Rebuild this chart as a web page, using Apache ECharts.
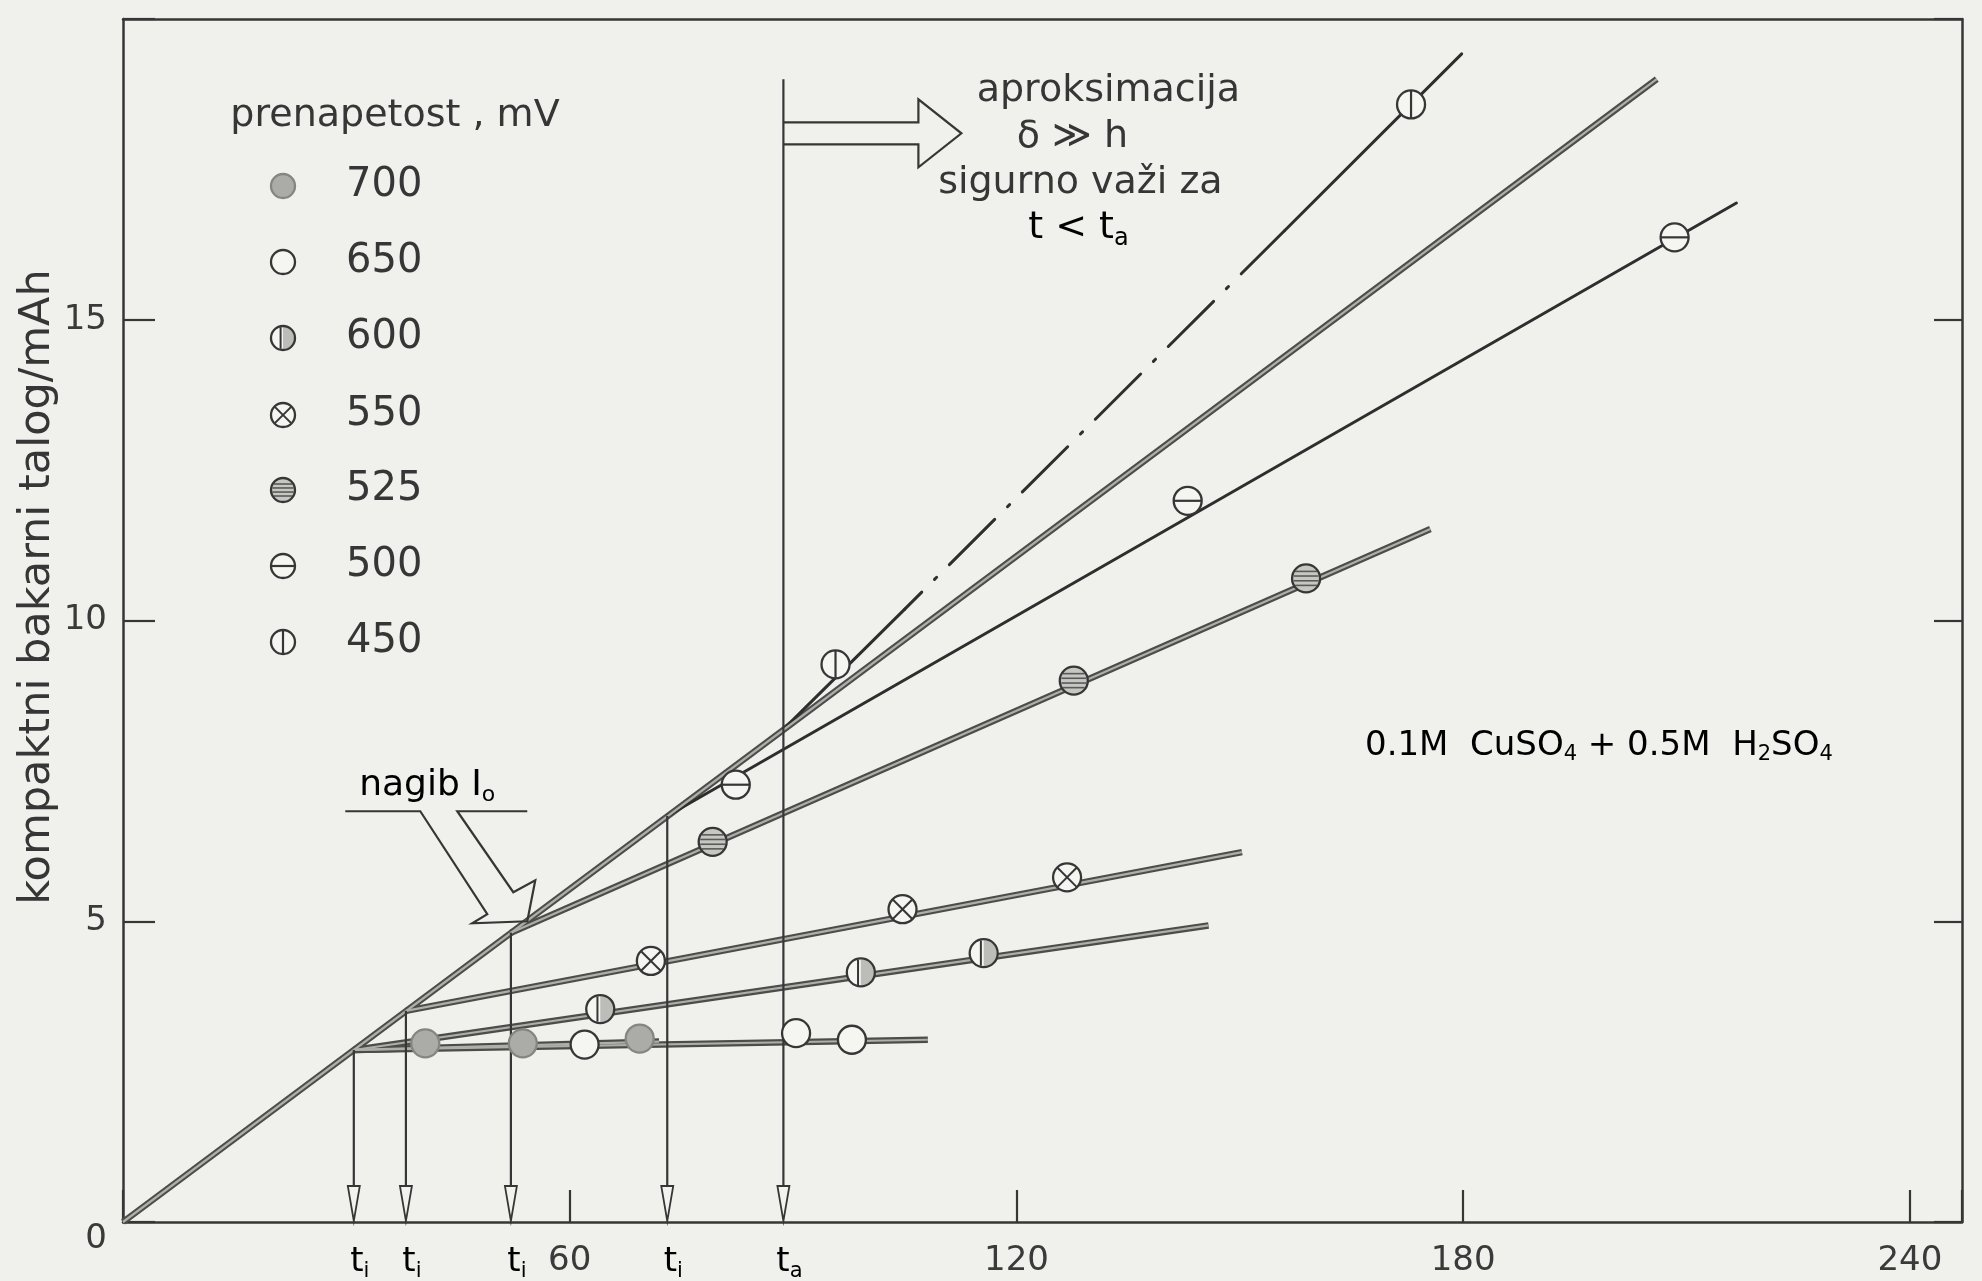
<!DOCTYPE html>
<html>
<head>
<meta charset="utf-8">
<script src="https://cdn.jsdelivr.net/npm/echarts@6/dist/echarts.min.js"></script>
<style>
  html, body { margin: 0; background: #f0f1ed; }
  #chart { width: 1982px; height: 1281px; }
</style>
</head>
<body>
<div id="chart"></div>
<script>
// overpotential, mV (legend order)
const voltages = ['700', '650', '600', '550', '525', '500', '450'];

// measured points [t / min, Q / mAh]
const pts700 = [[40.6, 2.97], [53.7, 2.97], [69.4, 3.05]];
const pts650 = [[62.0, 2.95], [90.4, 3.14], [97.9, 3.03]];
const pts600 = [[64.1, 3.54], [99.1, 4.15], [115.6, 4.47]];
const pts550 = [[70.9, 4.34], [104.7, 5.20], [126.8, 5.73]];
const pts525 = [[79.2, 6.32], [127.7, 9.00], [158.9, 10.70]];
const pts500 = [[82.3, 7.27], [143.0, 11.99], [208.4, 16.37]];
const pts450 = [[95.7, 9.27], [173.0, 18.58]];

// straight lines drawn through each set (start, end)
const fit700 = [[31.0, 2.86], [72.0, 3.00]];
const fit650 = [[31.0, 2.86], [108.1, 3.03]];
const fit600 = [[31.0, 2.86], [145.8, 4.93]];
const fit550 = [[38.0, 3.51], [150.3, 6.15]];
const fit525 = [[52.1, 4.81], [175.6, 11.52]];
const fit500 = [[73.1, 6.75], [216.7, 16.94]];
const fit450a = [[88.7, 8.19], [105.0, 10.19]];
const fit450b = [[105.0, 10.19], [156.0, 16.48]];   // dash-dot part
const fit450c = [[156.0, 16.48], [179.8, 19.42]];

// initial slope I_o
const ioLine = [[0, 0], [206.0, 19.0]];

// t_i drop lines and t_a
const tI = [31.0, 38.0, 52.1, 73.1];
const tIq = [2.86, 3.51, 4.81, 6.75];
const tA = 88.7;
const tAtop = 19.0;

// annotation anchors
const nagibTip = [54.3, 5.0];
const approxAt = [88.7, 18.1];

const xTicks = [60, 120, 180, 240];
const yTicks = [0, 5, 10, 15];

const ink = '#363636';
const FONT = "'DejaVu Sans', sans-serif";

const pts = { '700': pts700, '650': pts650, '600': pts600, '550': pts550, '525': pts525, '500': pts500, '450': pts450 };
const fits = {
  '700': [fit700], '650': [fit650], '600': [fit600], '550': [fit550],
  '525': [fit525], '500': [fit500], '450': [fit450a, fit450b, fit450c]
};
const kindOf = { '700': 'filled', '650': 'open', '600': 'half', '550': 'cross', '525': 'hatch', '500': 'minus', '450': 'bar' };
const lookOf = { '700': 'double', '650': 'double', '600': 'double', '550': 'double', '525': 'double', '500': 'single', '450': 'single' };

function seg(x1, y1, x2, y2, c, w) {
  return { type: 'line', shape: { x1, y1, x2, y2 }, style: { stroke: c || ink, lineWidth: w || 2 } };
}

function marker(kind, x, y, r) {
  const kids = [];
  const base = kind === 'filled' ? '#ababa7' : kind === 'hatch' ? '#c6c6c2' : '#f5f5f2';
  kids.push({ type: 'circle', shape: { cx: 0, cy: 0, r }, style: { fill: base } });
  if (kind === 'half') {
    kids.push({ type: 'sector', shape: { cx: 0, cy: 0, r0: 0, r: r - 1, startAngle: -Math.PI / 2, endAngle: Math.PI / 2, clockwise: true }, style: { fill: '#bcbcb8' } });
    kids.push(seg(-r * 0.2, -r * 0.9, -r * 0.2, r * 0.9, ink, 2));
  } else if (kind === 'cross') {
    const d = r * 0.68;
    kids.push(seg(-d, -d, d, d, ink, 2));
    kids.push(seg(-d, d, d, -d, ink, 2));
  } else if (kind === 'hatch') {
    [-0.5, -0.17, 0.17, 0.5].forEach(f => {
      const h = r * Math.sqrt(1 - f * f) * 0.9;
      kids.push(seg(-h, f * r, h, f * r, '#5a5a58', 1.6));
    });
  } else if (kind === 'minus') {
    kids.push(seg(-r, 0, r, 0, ink, 2.2));
  } else if (kind === 'bar') {
    kids.push(seg(0, -r, 0, r, ink, 2.2));
  }
  kids.push({ type: 'circle', shape: { cx: 0, cy: 0, r }, style: { fill: 'none', stroke: kind === 'filled' ? '#858581' : ink, lineWidth: 2.3 } });
  return { type: 'group', x, y, children: kids };
}

function lineSeries(data, look, dashed) {
  if (look === 'double') {
    return [
      { type: 'line', data, showSymbol: false, silent: true, z: 2, lineStyle: { color: '#4c4c4a', width: 6.5 } },
      { type: 'line', data, showSymbol: false, silent: true, z: 3, lineStyle: { color: '#aeaeaa', width: 2.2 } }
    ];
  }
  return [{
    type: 'line', data, showSymbol: false, silent: true, z: 2,
    lineStyle: { color: '#2e2e2e', width: 3, cap: 'round', type: dashed ? [64, 18, 3, 18] : 'solid', dashOffset: 40 }
  }];
}

const series = [];
series.push(...lineSeries(ioLine, 'double'));
voltages.forEach(v => {
  fits[v].forEach(f => series.push(...lineSeries(f, lookOf[v], f === fit450b)));
});
voltages.forEach(v => {
  series.push({
    type: 'custom', name: v, data: pts[v], z: 6, silent: true,
    renderItem: (p, api) => {
      const c = api.coord([api.value(0), api.value(1)]);
      return marker(kindOf[v], c[0], c[1], 14);
    }
  });
});

const subRich = (size) => ({
  a: { fontSize: size, fontFamily: FONT, color: ink },
  s: { fontSize: Math.round(size * 0.62), fontFamily: FONT, color: ink, padding: [Math.round(size * 0.55), 0, 0, 0] }
});

// drop lines with arrows to the time axis
const dropData = tI.map((t, i) => [t, tIq[i], 0]).concat([[tA, tAtop, 1]]);
series.push({
  type: 'custom', data: dropData, z: 4, silent: true,
  renderItem: (p, api) => {
    const top = api.coord([api.value(0), api.value(1)]);
    const bot = api.coord([api.value(0), 0]);
    const x = top[0], y1 = bot[1];
    const sub = api.value(2) ? 'a' : 'i';
    return {
      type: 'group', children: [
        seg(x, top[1], x, y1 - 34, ink, 2.2),
        { type: 'polygon', shape: { points: [[x - 6, y1 - 36], [x + 6, y1 - 36], [x, y1 - 1]] }, style: { fill: '#f2f2ef', stroke: ink, lineWidth: 1.8 } },
        { type: 'text', x: x + 6, y: y1 + 40, style: { text: '{a|t}{s|' + sub + '}', rich: subRich(34), align: 'center', verticalAlign: 'middle' } }
      ]
    };
  }
});

// block arrows with their captions
series.push({
  type: 'custom', data: [[nagibTip[0], nagibTip[1], 0], [approxAt[0], approxAt[1], 1]], z: 7, silent: true,
  renderItem: (p, api) => {
    const c = api.coord([api.value(0), api.value(1)]);
    const txt = (dx, dy, s, size) => ({
      type: 'text', x: dx, y: dy,
      style: { text: s, font: size + 'px ' + FONT, fill: ink, align: 'center', verticalAlign: 'middle' }
    });
    if (api.value(2) === 0) {
      return {
        type: 'group', x: c[0], y: c[1], children: [
          { type: 'polyline', shape: { points: [[-182, -110], [-107, -110], [-40, -7], [-55, 2], [0, 0], [8, -41], [-14, -29], [-70, -110], [0, -110]] }, style: { stroke: ink, lineWidth: 2.2, fill: null } },
          { type: 'text', x: -100, y: -136, style: { text: '{a|nagib I}{s|o}', rich: subRich(36), align: 'center', verticalAlign: 'middle' } }
        ]
      };
    }
    return {
      type: 'group', x: c[0], y: c[1], children: [
        { type: 'polyline', shape: { points: [[0, -11], [135, -11], [135, -34], [178, 0], [135, 34], [135, 11], [0, 11]] }, style: { stroke: ink, lineWidth: 2.2, fill: null } },
        txt(325, -42, 'aproksimacija', 38),
        txt(289, 4, 'δ ≫ h', 38),
        txt(297, 50, 'sigurno važi za', 38),
        { type: 'text', x: 295, y: 95, style: { text: '{a|t < t}{s|a}', rich: subRich(38), align: 'center', verticalAlign: 'middle' } }
      ]
    };
  }
});

// hand-drawn style legend
const legendEls = [{
  type: 'text', x: 395, y: 116,
  style: { text: 'prenapetost , mV', font: '38px ' + FONT, fill: ink, align: 'center', verticalAlign: 'middle' }
}];
const rowY = [186, 262, 338, 415, 490, 566, 642];
voltages.forEach((v, i) => {
  legendEls.push(marker(kindOf[v], 283, rowY[i], 12));
  legendEls.push({ type: 'text', x: 346, y: rowY[i], style: { text: v, font: '40px ' + FONT, fill: ink, align: 'left', verticalAlign: 'middle' } });
});
legendEls.push({
  type: 'text', x: 38, y: 587, rotation: Math.PI / 2,
  style: { text: 'kompaktni bakarni talog/mAh', font: '43px ' + FONT, fill: ink, align: 'center', verticalAlign: 'middle' }
});
legendEls.push({
  type: 'text', x: 1365, y: 746,
  style: {
    text: '{n|0.1M  CuSO}{s|4}{n| + 0.5M  H}{s|2}{n|SO}{s|4}',
    rich: {
      n: { fontSize: 34, fontFamily: FONT, color: ink },
      s: { fontSize: 21, fontFamily: FONT, color: ink, padding: [18, 0, 0, 0] }
    },
    align: 'left', verticalAlign: 'middle'
  }
});

const axisLine = { show: true, onZero: false, lineStyle: { color: ink, width: 2.5 } };
const labelStyle = { fontSize: 34, color: '#3a3a3a', fontFamily: FONT };

const chart = echarts.init(document.getElementById('chart'));
chart.setOption({
  animation: false,
  backgroundColor: '#f0f1ed',
  grid: { left: 123, right: 20, top: 19, bottom: 59 },
  xAxis: [
    {
      type: 'value', min: 0, max: 247, interval: 60, position: 'bottom',
      axisLine, splitLine: { show: false },
      axisTick: { inside: true, length: 32, lineStyle: { color: ink, width: 2.2 } },
      axisLabel: Object.assign({ margin: 22, formatter: v => xTicks.includes(v) ? String(v) : '' }, labelStyle)
    },
    {
      type: 'value', min: 0, max: 247, position: 'top',
      axisLine, splitLine: { show: false }, axisTick: { show: false }, axisLabel: { show: false }
    }
  ],
  yAxis: [
    {
      type: 'value', min: 0, max: 20, interval: 5, position: 'left',
      axisLine, splitLine: { show: false },
      axisTick: { inside: true, length: 32, lineStyle: { color: ink, width: 2.2 } },
      axisLabel: Object.assign({ margin: 16, verticalAlignMinLabel: 'top', formatter: v => yTicks.includes(v) ? String(v) : '' }, labelStyle)
    },
    {
      type: 'value', min: 0, max: 20, interval: 5, position: 'right',
      axisLine, splitLine: { show: false },
      axisTick: { inside: true, length: 28, lineStyle: { color: ink, width: 2.2 } },
      axisLabel: { show: false }
    }
  ],
  graphic: { elements: legendEls },
  series
});
</script>
</body>
</html>
